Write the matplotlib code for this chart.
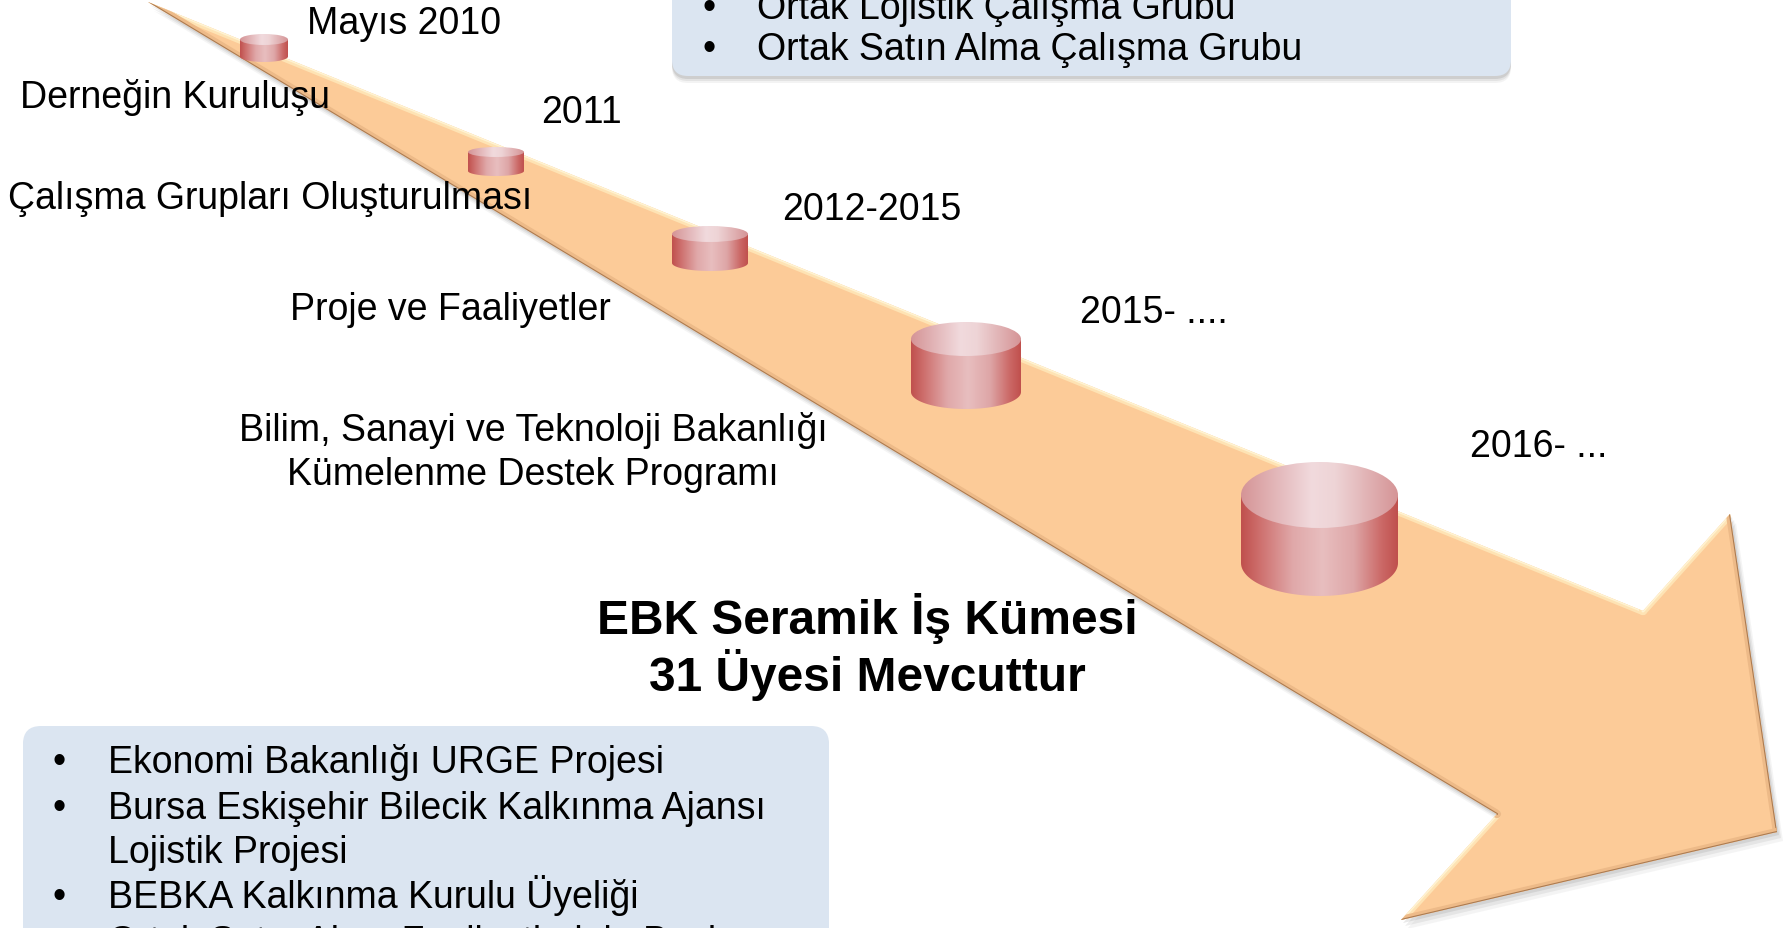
import numpy as np
import matplotlib
matplotlib.use('Agg')
import matplotlib.pyplot as plt
from matplotlib.patches import Polygon, Ellipse, FancyBboxPatch, PathPatch
from matplotlib.path import Path
from matplotlib.colors import LinearSegmentedColormap

plt.rcParams['font.family'] = ['Liberation Sans', 'DejaVu Sans']

# ---------------- content ----------------
milestone_dates = ['Mayıs 2010', '2011', '2012-2015', '2015- ....', '2016- ...']
milestone_events = ['Derneğin Kuruluşu', 'Çalışma Grupları Oluşturulması',
                    'Proje ve Faaliyetler',
                    'Bilim, Sanayi ve Teknoloji Bakanlığı',
                    'Kümelenme Destek Programı']
top_box_items = ['Ortak Lojistik Çalışma Grubu', 'Ortak Satın Alma Çalışma Grubu']
bottom_box_text = ['Ekonomi Bakanlığı URGE Projesi',
                   'Bursa Eskişehir Bilecik Kalkınma Ajansı',
                   'Lojistik Projesi',
                   'BEBKA Kalkınma Kurulu Üyeliği',
                   'Ortak Satın Alma Faaliyetlerinin Başlaması']
bottom_box_bullet = [True, True, False, True, True]
headline = ['EBK Seramik İş Kümesi', '31 Üyesi Mevcuttur']

# ---------------- layout (pixel coordinates) ----------------
W, H = 1785, 929
fig = plt.figure(figsize=(W / 100, H / 100), dpi=100)
ax = fig.add_axes([0, 0, 1, 1])
ax.set_xlim(0, W)
ax.set_ylim(H, 0)
ax.axis('off')

FS = 27      # regular text size (pt)
FSB = 34.5   # bold headline size
BASE = 13    # center -> baseline offset (px)
BASEB = 17

# ---------------- arrow ----------------
arrow_pts = np.array([(148, 3), (1643, 612), (1730, 515), (1777, 833),
                      (1401, 921), (1497, 815)])
for dx, dy, a in [(6, 9, 0.08), (4, 6, 0.12), (2, 3, 0.16)]:
    ax.add_patch(Polygon(arrow_pts + [dx, dy], closed=True, fc='#7a7a7a',
                         ec='none', alpha=a, zorder=1))
arrow = Polygon(arrow_pts, closed=True, fc='#FCCB98', ec='none', zorder=2)
ax.add_patch(arrow)

# bevel: light highlight on up/left facing edges, darker on down/right
edges_light = [(0, 1), (1, 2), (4, 5)]
edges_dark = [(2, 3), (3, 4), (5, 0)]
for i, j in edges_light:
    p, q = arrow_pts[i], arrow_pts[j]
    ln, = ax.plot([p[0], q[0]], [p[1], q[1]], color='#FEE3B4', lw=6,
                  solid_capstyle='round', zorder=3)
    ln.set_clip_path(arrow)
    ln2, = ax.plot([p[0], q[0]], [p[1], q[1]], color='#FFF3D2', lw=2.2,
                   solid_capstyle='round', zorder=3)
    ln2.set_clip_path(arrow)
for i, j in edges_dark:
    p, q = arrow_pts[i], arrow_pts[j]
    ln, = ax.plot([p[0], q[0]], [p[1], q[1]], color='#EDBA88', lw=6,
                  solid_capstyle='round', zorder=3)
    ln.set_clip_path(arrow)
    ln2, = ax.plot([p[0], q[0]], [p[1], q[1]], color='#A97A52', lw=1.5,
                   solid_capstyle='round', zorder=3)
    ln2.set_clip_path(arrow)

# ---------------- cylinders ----------------
cyl_cx = [264, 496, 710, 966, 1319.5]
cyl_w = [48, 56, 76, 110, 157]
cyl_top = [40.5, 153, 235, 340, 496]
cyl_semi = [5.5, 5, 8, 17, 33]
cyl_bot = [57.5, 172, 264, 393, 564]

body_cmap = LinearSegmentedColormap.from_list('body', [
    (0.0, (192/255, 80/255, 77/255)),
    (0.12, (206/255, 112/255, 110/255)),
    (0.33, (224/255, 168/255, 169/255)),
    (0.52, (232/255, 190/255, 191/255)),
    (0.72, (222/255, 166/255, 167/255)),
    (0.9, (203/255, 104/255, 102/255)),
    (1.0, (192/255, 80/255, 77/255))])
top_cmap = LinearSegmentedColormap.from_list('top', [
    (0.0, (213/255, 148/255, 150/255)),
    (0.45, (241/255, 218/255, 221/255)),
    (0.6, (238/255, 212/255, 214/255)),
    (1.0, (213/255, 148/255, 150/255))])
grad = np.linspace(0, 1, 256)[None, :]

for cx, w, yt, s, yb in zip(cyl_cx, cyl_w, cyl_top, cyl_semi, cyl_bot):
    x0, x1 = cx - w / 2, cx + w / 2
    t = np.linspace(np.pi, 0, 60)
    ex = cx + (w / 2) * np.cos(t)
    ey = yb + s * np.sin(t)
    verts = [(x0, yt), (x0, yb)] + list(zip(ex, ey)) + [(x1, yt), (x0, yt)]
    body = PathPatch(Path(verts), fc='none', ec='none', zorder=4)
    ax.add_patch(body)
    im = ax.imshow(grad, cmap=body_cmap, extent=(x0, x1, yb + s + 1, yt - 1),
                   aspect='auto', zorder=4, interpolation='bicubic')
    im.set_clip_path(body)
    topE = Ellipse((cx, yt), w, 2 * s, fc='none', ec='none', zorder=5)
    ax.add_patch(topE)
    im2 = ax.imshow(grad, cmap=top_cmap, extent=(x0, x1, yt + s + 1, yt - s - 1),
                    aspect='auto', zorder=5, interpolation='bicubic')
    im2.set_clip_path(topE)

ax.set_xlim(0, W)
ax.set_ylim(H, 0)

# ---------------- labels ----------------
date_pos = [(307, 20.5), (541, 110), (782, 207), (1080, 310), (1470, 444)]
for (x, y), s in zip(date_pos, milestone_dates):
    ax.text(x, y + BASE, s, fontsize=FS, ha='left', va='baseline', zorder=10)

event_pos = [(20, 94.5, 'left'), (8, 196, 'left'), (290, 307, 'left'),
             (533, 428, 'center'), (533, 472, 'center')]
for (x, y, ha), s in zip(event_pos, milestone_events):
    ax.text(x, y + BASE, s, fontsize=FS, ha=ha, va='baseline', zorder=10)

for y, s in zip([617, 674], headline):
    ax.text(867, y + BASEB, s, fontsize=FSB, fontweight='bold', ha='center',
            va='baseline', zorder=10)

# ---------------- text boxes ----------------
def rbox(x0, y0, x1, y1, r):
    for dx, dy, a in [(0, 7, 0.08), (0, 5, 0.12), (0, 3, 0.18)]:
        ax.add_patch(FancyBboxPatch((x0 + dx, y0 + dy), x1 - x0, y1 - y0,
                                    boxstyle=f'round,pad=0,rounding_size={r}',
                                    fc='#707070', ec='none', alpha=a, zorder=6))
    ax.add_patch(FancyBboxPatch((x0, y0), x1 - x0, y1 - y0,
                                boxstyle=f'round,pad=0,rounding_size={r}',
                                fc='#DBE5F1', ec='none', zorder=7))

rbox(672, -60, 1511, 77, 16)
rbox(23, 727, 829, 1000, 18)

for y, s in zip([6, 47], top_box_items):
    ax.text(702, y + BASE, '•', fontsize=FS, ha='left', va='baseline', zorder=10)
    ax.text(757, y + BASE, s, fontsize=FS, ha='left', va='baseline', zorder=10)

for y, s, b in zip([760, 806, 850, 895, 940], bottom_box_text, bottom_box_bullet):
    if b:
        ax.text(53, y + BASE, '•', fontsize=FS, ha='left', va='baseline', zorder=10)
    ax.text(108, y + BASE, s, fontsize=FS, ha='left', va='baseline', zorder=10)

fig.savefig('out.png', dpi=100, facecolor='white')
